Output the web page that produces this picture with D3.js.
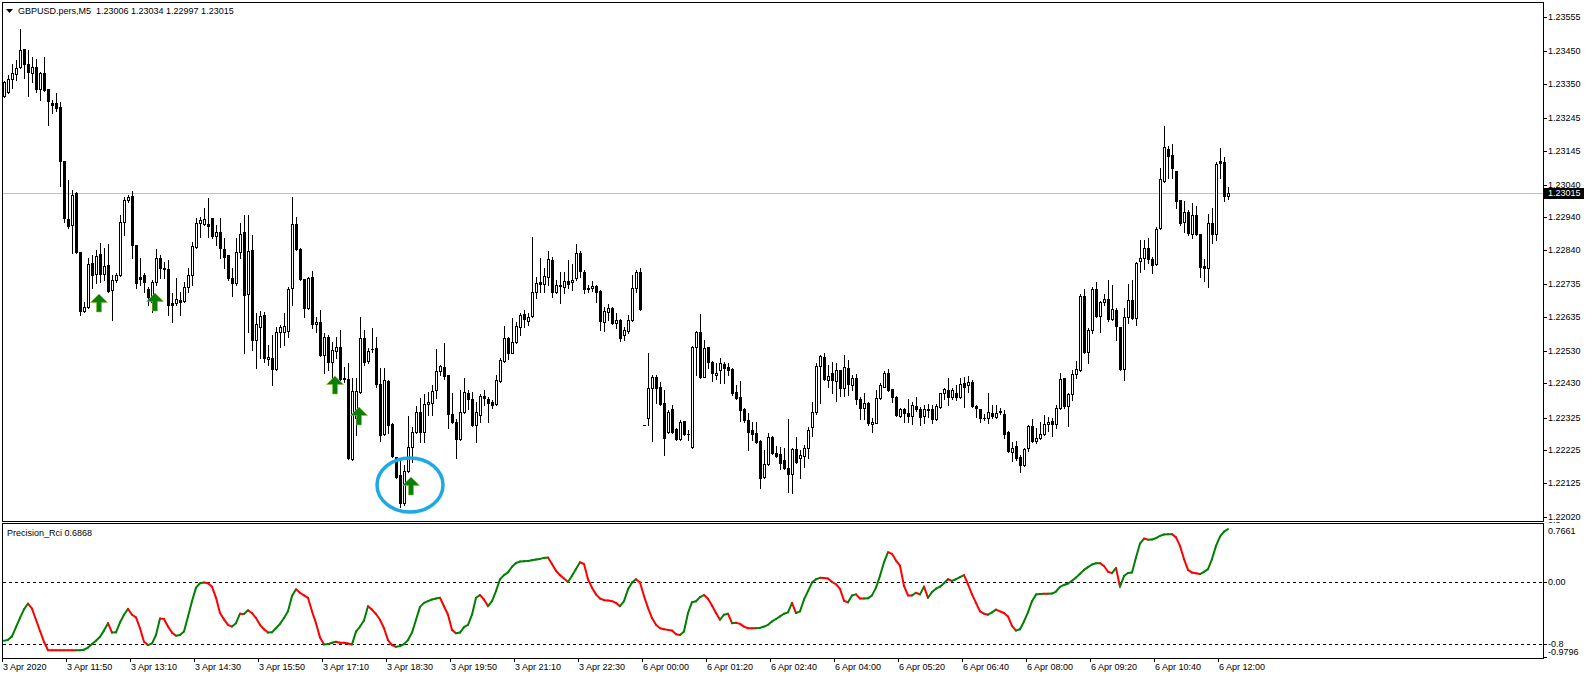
<!DOCTYPE html>
<html><head><meta charset="utf-8">
<script src="https://cdn.jsdelivr.net/npm/d3@7"></script>
<style>
body{margin:0;background:#fff;}
svg{display:block;}
text{font-family:"Liberation Sans",Arial,sans-serif;font-size:9px;fill:#000;}
</style>
</head><body>
<svg id="c" width="1589" height="679"></svg>
<script>
const symbolName = "GBPUSD.pers,M5";
const indicatorName = "Precision_Rci";

const opens = [1.23312,1.23325,1.23364,1.23380,1.23401,1.23457,1.23410,1.23383,1.23401,1.23334,
1.23383,1.23334,1.23291,1.23291,1.23278,1.23113,1.22935,1.22916,1.23014,1.22833,
1.22652,1.22664,1.22800,1.22766,1.22827,1.22766,1.22793,1.22717,1.22747,1.22763,
1.22926,1.22993,1.23005,1.22855,1.22757,1.22763,1.22720,1.22680,1.22741,1.22815,
1.22784,1.22781,1.22677,1.22677,1.22686,1.22683,1.22726,1.22763,1.22849,1.22922,
1.22919,1.22919,1.22938,1.22882,1.22895,1.22843,1.22824,1.22754,1.22738,1.22833,
1.22895,1.22704,1.22840,1.22563,1.22603,1.22640,1.22505,1.22508,1.22474,1.22588,
1.22588,1.22591,1.22723,1.22919,1.22843,1.22750,1.22661,1.22757,1.22612,1.22619,
1.22517,1.22572,1.22496,1.22529,1.22542,1.22446,1.22443,1.22198,1.22324,1.22404,
1.22569,1.22499,1.22536,1.22539,1.22428,1.22275,1.22437,1.22305,1.22204,1.22149,
1.22063,1.22161,1.22235,1.22281,1.22342,1.22281,1.22367,1.22370,1.22410,1.22468,
1.22480,1.22456,1.22336,1.22311,1.22259,1.22342,1.22400,1.22382,1.22302,1.22333,
1.22391,1.22382,1.22373,1.22367,1.22437,1.22499,1.22569,1.22523,1.22557,1.22603,
1.22643,1.22622,1.22637,1.22711,1.22741,1.22735,1.22757,1.22809,1.22711,1.22732,
1.22726,1.22744,1.22741,1.22754,1.22830,1.22772,1.22723,1.22723,1.22729,1.22714,
1.22619,1.22649,1.22661,1.22615,1.22625,1.22579,1.22591,1.22625,1.22723,1.22772,
1.22302,1.22324,1.22416,1.22450,1.22419,1.22370,1.22281,1.22351,1.22290,1.22259,
1.22315,1.22275,1.22235,1.22542,1.22588,1.22450,1.22542,1.22496,1.22456,1.22471,
1.22490,1.22480,1.22474,1.22404,1.22388,1.22351,1.22318,1.22287,1.22278,1.22253,
1.22143,1.22183,1.22265,1.22216,1.22213,1.22195,1.22170,1.22152,1.22229,1.22201,
1.22207,1.22232,1.22296,1.22342,1.22483,1.22511,1.22440,1.22462,1.22437,1.22471,
1.22416,1.22477,1.22425,1.22446,1.22382,1.22354,1.22370,1.22305,1.22308,1.22385,
1.22419,1.22462,1.22413,1.22388,1.22330,1.22351,1.22339,1.22330,1.22361,1.22351,
1.22330,1.22348,1.22351,1.22321,1.22357,1.22400,1.22410,1.22388,1.22400,1.22388,
1.22431,1.22425,1.22434,1.22361,1.22351,1.22324,1.22324,1.22339,1.22327,1.22345,
1.22336,1.22281,1.22219,1.22238,1.22204,1.22179,1.22232,1.22299,1.22253,1.22262,
1.22275,1.22305,1.22315,1.22305,1.22354,1.22446,1.22361,1.22397,1.22459,1.22471,
1.22698,1.22526,1.22594,1.22720,1.22637,1.22680,1.22689,1.22628,1.22655,1.22603,
1.22474,1.22634,1.22686,1.22631,1.22806,1.22815,1.22846,1.22812,1.22796,1.22907,
1.23051,1.23150,1.23131,1.23082,1.22993,1.22926,1.22956,1.22889,1.22947,1.22889,
1.22790,1.22784,1.22922,1.22889,1.23113,1.23110,1.23006];

const highs = [1.23358,1.23377,1.23410,1.23423,1.23518,1.23457,1.23453,1.23432,1.23426,1.23386,
1.23432,1.23334,1.23300,1.23321,1.23294,1.23113,1.23054,1.23024,1.23018,1.22833,
1.22680,1.22815,1.22824,1.22839,1.22861,1.22846,1.22858,1.22763,1.22769,1.22947,
1.23002,1.23008,1.23021,1.22855,1.22815,1.22769,1.22726,1.22747,1.22843,1.22824,
1.22803,1.22809,1.22708,1.22754,1.22711,1.22741,1.22784,1.22864,1.22938,1.22941,
1.22968,1.22999,1.22938,1.22916,1.22938,1.22876,1.22824,1.22784,1.22876,1.22922,
1.22947,1.22947,1.22886,1.22646,1.22652,1.22649,1.22548,1.22579,1.22603,1.22609,
1.22646,1.22726,1.23002,1.22941,1.22846,1.22750,1.22757,1.22775,1.22634,1.22655,
1.22585,1.22579,1.22557,1.22572,1.22594,1.22480,1.22493,1.22446,1.22446,1.22634,
1.22594,1.22539,1.22600,1.22572,1.22477,1.22477,1.22440,1.22308,1.22204,1.22201,
1.22179,1.22330,1.22296,1.22361,1.22385,1.22397,1.22404,1.22425,1.22536,1.22486,
1.22554,1.22456,1.22400,1.22321,1.22410,1.22446,1.22410,1.22404,1.22373,1.22397,
1.22410,1.22388,1.22379,1.22456,1.22508,1.22606,1.22572,1.22631,1.22619,1.22646,
1.22655,1.22646,1.22879,1.22757,1.22815,1.22784,1.22836,1.22818,1.22747,1.22772,
1.22772,1.22809,1.22796,1.22858,1.22836,1.22778,1.22732,1.22744,1.22732,1.22717,
1.22664,1.22674,1.22664,1.22646,1.22628,1.22603,1.22640,1.22763,1.22778,1.22784,
1.22302,1.22523,1.22456,1.22456,1.22434,1.22410,1.22348,1.22364,1.22293,1.22318,
1.22315,1.22287,1.22545,1.22591,1.22643,1.22563,1.22542,1.22499,1.22493,1.22508,
1.22496,1.22493,1.22477,1.22425,1.22437,1.22354,1.22339,1.22311,1.22311,1.22256,
1.22226,1.22278,1.22268,1.22238,1.22235,1.22232,1.22321,1.22232,1.22265,1.22226,
1.22241,1.22296,1.22373,1.22493,1.22517,1.22523,1.22486,1.22496,1.22493,1.22471,
1.22517,1.22502,1.22456,1.22459,1.22388,1.22400,1.22373,1.22324,1.22410,1.22431,
1.22468,1.22474,1.22413,1.22391,1.22354,1.22354,1.22382,1.22373,1.22388,1.22357,
1.22364,1.22367,1.22364,1.22367,1.22402,1.22416,1.22446,1.22416,1.22425,1.22446,
1.22450,1.22453,1.22440,1.22364,1.22351,1.22336,1.22400,1.22364,1.22364,1.22354,
1.22348,1.22284,1.22250,1.22253,1.22210,1.22232,1.22302,1.22321,1.22293,1.22311,
1.22333,1.22327,1.22324,1.22364,1.22462,1.22446,1.22400,1.22471,1.22499,1.22704,
1.22720,1.22600,1.22726,1.22741,1.22683,1.22704,1.22747,1.22732,1.22661,1.22603,
1.22661,1.22735,1.22747,1.22803,1.22870,1.22870,1.22876,1.22818,1.22910,1.23091,
1.23220,1.23159,1.23165,1.23082,1.22993,1.22990,1.22962,1.22984,1.22975,1.22889,
1.22812,1.22950,1.22968,1.23110,1.23153,1.23125,1.23034];

const lows = [1.23309,1.23321,1.23337,1.23361,1.23398,1.23367,1.23312,1.23355,1.23325,1.23300,
1.23328,1.23223,1.23260,1.23266,1.23036,1.22926,1.22907,1.22830,1.22830,1.22640,
1.22649,1.22661,1.22723,1.22738,1.22741,1.22747,1.22711,1.22625,1.22741,1.22760,
1.22886,1.22987,1.22815,1.22723,1.22732,1.22711,1.22671,1.22649,1.22732,1.22754,
1.22754,1.22640,1.22619,1.22671,1.22640,1.22680,1.22711,1.22732,1.22846,1.22879,
1.22916,1.22879,1.22876,1.22855,1.22815,1.22784,1.22747,1.22698,1.22732,1.22815,
1.22523,1.22588,1.22533,1.22477,1.22508,1.22496,1.22486,1.22425,1.22471,1.22542,
1.22548,1.22572,1.22671,1.22840,1.22747,1.22634,1.22658,1.22600,1.22588,1.22514,
1.22462,1.22471,1.22446,1.22508,1.22440,1.22434,1.22198,1.22195,1.22272,1.22400,
1.22486,1.22493,1.22526,1.22419,1.22253,1.22272,1.22278,1.22204,1.22140,1.22051,
1.22057,1.22158,1.22189,1.22278,1.22250,1.22250,1.22333,1.22333,1.22385,1.22456,
1.22443,1.22293,1.22308,1.22201,1.22256,1.22339,1.22351,1.22299,1.22250,1.22311,
1.22364,1.22311,1.22354,1.22364,1.22434,1.22496,1.22505,1.22523,1.22554,1.22579,
1.22603,1.22609,1.22634,1.22692,1.22711,1.22711,1.22732,1.22695,1.22708,1.22677,
1.22708,1.22723,1.22717,1.22747,1.22757,1.22708,1.22711,1.22714,1.22680,1.22594,
1.22591,1.22625,1.22612,1.22600,1.22560,1.22563,1.22585,1.22622,1.22711,1.22655,
1.22302,1.22302,1.22253,1.22370,1.22365,1.22210,1.22278,1.22278,1.22256,1.22256,
1.22272,1.22256,1.22232,1.22456,1.22446,1.22450,1.22477,1.22437,1.22443,1.22431,
1.22431,1.22456,1.22394,1.22382,1.22315,1.22311,1.22226,1.22256,1.22248,1.22109,
1.22140,1.22179,1.22214,1.22204,1.22167,1.22167,1.22097,1.22094,1.22187,1.22140,
1.22173,1.22201,1.22268,1.22336,1.22370,1.22440,1.22419,1.22400,1.22376,1.22391,
1.22391,1.22394,1.22410,1.22367,1.22321,1.22321,1.22302,1.22281,1.22308,1.22382,
1.22419,1.22407,1.22373,1.22330,1.22327,1.22311,1.22311,1.22305,1.22345,1.22302,
1.22308,1.22327,1.22308,1.22318,1.22355,1.22382,1.22364,1.22382,1.22379,1.22385,
1.22357,1.22404,1.22357,1.22327,1.22311,1.22318,1.22308,1.22324,1.22324,1.22336,
1.22262,1.22219,1.22192,1.22195,1.22158,1.22176,1.22222,1.22250,1.22247,1.22259,
1.22272,1.22284,1.22268,1.22293,1.22351,1.22354,1.22299,1.22379,1.22446,1.22468,
1.22524,1.22493,1.22585,1.22635,1.22588,1.22671,1.22622,1.22625,1.22563,1.22471,
1.22440,1.22615,1.22628,1.22609,1.22772,1.22781,1.22800,1.22769,1.22793,1.22904,
1.23048,1.23060,1.23060,1.22968,1.22916,1.22895,1.22886,1.22876,1.22886,1.22757,
1.22744,1.22726,1.22861,1.22870,1.23060,1.22990,1.22997];

const closes = [1.23355,1.23364,1.23383,1.23398,1.23453,1.23410,1.23386,1.23401,1.23334,1.23383,
1.23331,1.23297,1.23285,1.23275,1.23113,1.22938,1.22913,1.23008,1.22833,1.22652,
1.22664,1.22796,1.22763,1.22821,1.22766,1.22790,1.22714,1.22747,1.22763,1.22926,
1.22993,1.23002,1.22855,1.22738,1.22750,1.22741,1.22695,1.22741,1.22815,1.22784,
1.22781,1.22671,1.22671,1.22689,1.22680,1.22726,1.22763,1.22852,1.22922,1.22932,
1.22935,1.22913,1.22882,1.22895,1.22846,1.22818,1.22754,1.22738,1.22833,1.22889,
1.22701,1.22836,1.22563,1.22612,1.22637,1.22508,1.22511,1.22474,1.22588,1.22603,
1.22606,1.22720,1.22919,1.22843,1.22750,1.22661,1.22754,1.22612,1.22619,1.22517,
1.22572,1.22496,1.22533,1.22542,1.22443,1.22443,1.22201,1.22407,1.22407,1.22569,
1.22496,1.22529,1.22535,1.22428,1.22272,1.22440,1.22302,1.22207,1.22143,1.22063,
1.22161,1.22235,1.22281,1.22342,1.22281,1.22367,1.22373,1.22407,1.22468,1.22483,
1.22453,1.22336,1.22311,1.22259,1.22342,1.22404,1.22382,1.22302,1.22342,1.22391,
1.22385,1.22370,1.22364,1.22440,1.22502,1.22569,1.22523,1.22557,1.22606,1.22640,
1.22628,1.22634,1.22711,1.22738,1.22735,1.22760,1.22812,1.22711,1.22732,1.22729,
1.22744,1.22735,1.22747,1.22830,1.22775,1.22720,1.22720,1.22729,1.22711,1.22622,
1.22652,1.22661,1.22615,1.22625,1.22569,1.22594,1.22625,1.22723,1.22772,1.22658,
1.22302,1.22416,1.22450,1.22416,1.22367,1.22262,1.22342,1.22281,1.22259,1.22311,
1.22275,1.22274,1.22542,1.22588,1.22450,1.22539,1.22496,1.22462,1.22462,1.22493,
1.22477,1.22471,1.22400,1.22385,1.22348,1.22318,1.22281,1.22275,1.22250,1.22140,
1.22183,1.22265,1.22216,1.22207,1.22186,1.22170,1.22152,1.22229,1.22189,1.22210,
1.22232,1.22287,1.22342,1.22483,1.22514,1.22443,1.22453,1.22440,1.22471,1.22416,
1.22480,1.22428,1.22446,1.22382,1.22354,1.22370,1.22308,1.22311,1.22385,1.22425,
1.22462,1.22410,1.22388,1.22333,1.22351,1.22339,1.22330,1.22364,1.22351,1.22327,
1.22351,1.22351,1.22321,1.22361,1.22400,1.22413,1.22388,1.22410,1.22388,1.22428,
1.22419,1.22434,1.22361,1.22354,1.22324,1.22323,1.22342,1.22330,1.22339,1.22342,
1.22275,1.22222,1.22232,1.22201,1.22179,1.22229,1.22299,1.22253,1.22262,1.22275,
1.22305,1.22311,1.22305,1.22354,1.22443,1.22361,1.22397,1.22459,1.22474,1.22698,
1.22526,1.22594,1.22720,1.22637,1.22680,1.22689,1.22628,1.22658,1.22606,1.22474,
1.22634,1.22686,1.22631,1.22800,1.22815,1.22846,1.22812,1.22793,1.22904,1.23057,
1.23156,1.23128,1.23091,1.22990,1.22922,1.22956,1.22892,1.22947,1.22889,1.22787,
1.22784,1.22922,1.22889,1.23104,1.23107,1.23006,1.23015];

const rciValues = [-0.756,-0.745,-0.70,-0.58,-0.46,-0.35,-0.275,-0.341,-0.485,-0.630,
-0.770,-0.879,-0.879,-0.879,-0.879,-0.879,-0.879,-0.879,-0.879,-0.878,
-0.872,-0.844,-0.800,-0.756,-0.704,-0.625,-0.529,-0.651,-0.648,-0.520,
-0.420,-0.345,-0.420,-0.455,-0.595,-0.769,-0.813,-0.791,-0.682,-0.470,
-0.475,-0.573,-0.651,-0.691,-0.682,-0.638,-0.442,-0.245,-0.070,-0.013,
-0.004,-0.013,-0.057,-0.201,-0.398,-0.480,-0.551,-0.573,-0.529,-0.407,
-0.411,-0.363,-0.398,-0.463,-0.551,-0.608,-0.651,-0.648,-0.595,-0.538,
-0.463,-0.376,-0.179,-0.092,-0.136,-0.170,-0.201,-0.376,-0.529,-0.713,
-0.804,-0.800,-0.783,-0.769,-0.783,-0.783,-0.791,-0.804,-0.638,-0.573,
-0.494,-0.310,-0.354,-0.411,-0.485,-0.595,-0.748,-0.813,-0.835,-0.826,
-0.800,-0.748,-0.651,-0.485,-0.319,-0.267,-0.245,-0.223,-0.210,-0.201,
-0.310,-0.420,-0.616,-0.660,-0.651,-0.581,-0.551,-0.420,-0.201,-0.166,
-0.223,-0.310,-0.245,-0.114,0.039,0.092,0.127,0.201,0.249,0.267,
0.272,0.275,0.284,0.293,0.302,0.315,0.319,0.236,0.149,0.092,
0.048,0.004,0.083,0.170,0.258,0.236,0.039,-0.070,-0.157,-0.210,
-0.232,-0.236,-0.245,-0.267,-0.310,-0.245,-0.092,-0.004,0.039,-0.004,
-0.179,-0.332,-0.463,-0.551,-0.595,-0.608,-0.616,-0.625,-0.673,-0.682,
-0.638,-0.398,-0.258,-0.245,-0.192,-0.166,-0.214,-0.302,-0.398,-0.485,
-0.420,-0.407,-0.529,-0.525,-0.538,-0.573,-0.595,-0.595,-0.595,-0.590,
-0.573,-0.551,-0.507,-0.475,-0.442,-0.407,-0.389,-0.267,-0.398,-0.376,
-0.223,-0.114,-0.004,0.039,0.057,0.055,0.048,0.004,-0.026,-0.085,
-0.240,-0.260,-0.170,-0.157,-0.210,-0.210,-0.208,-0.170,-0.070,0.083,
0.258,0.389,0.367,0.280,0.214,-0.048,-0.170,-0.170,-0.136,-0.157,
-0.057,-0.201,-0.127,-0.083,-0.057,-0.013,0.039,0.017,0.039,0.066,
0.092,-0.026,-0.157,-0.267,-0.376,-0.407,-0.420,-0.389,-0.354,-0.376,
-0.398,-0.442,-0.564,-0.625,-0.608,-0.507,-0.389,-0.245,-0.157,
-0.153,-0.149,-0.150,-0.146,-0.120,-0.060,-0.035,-0.017,0.020,0.060,0.110,
0.160,0.195,0.230,0.245,0.247,0.210,0.135,0.118,0.185,-0.058,
0.080,0.120,0.127,0.320,0.500,0.565,0.551,0.553,0.570,0.600,
0.618,0.621,0.622,0.580,0.470,0.300,0.160,0.125,0.115,0.106,
0.135,0.170,0.300,0.470,0.590,0.655,0.6868];

const priceTicks = [1.23555,1.23450,1.23350,1.23245,1.23145,1.23040,1.22940,1.22840,1.22735,1.22635,1.22530,1.22430,1.22325,1.22225,1.22125,1.22020];
const rciLevels = [0.8, 0, -0.8];
const rciLevelLabels = ["0.8","0.00","-0.8"];
const rciMax = 0.7661, rciMin = -0.9796;
const timeLabels = ["3 Apr 2020","3 Apr 11:50","3 Apr 13:10","3 Apr 14:30","3 Apr 15:50","3 Apr 17:10","3 Apr 18:30","3 Apr 19:50","3 Apr 21:10","3 Apr 22:30","6 Apr 00:00","6 Apr 01:20","6 Apr 02:40","6 Apr 04:00","6 Apr 05:20","6 Apr 06:40","6 Apr 08:00","6 Apr 09:20","6 Apr 10:40","6 Apr 12:00"];
const timeLabelBars = [0,16,32,48,64,80,96,112,128,144,160,176,192,208,224,240,256,272,288,304];
const arrowBars = [24,38,83,89,102];
const arrowPrices = [1.22704,1.22707,1.22453,1.22358,1.22143];
const circleBar = 101.5, circlePrice = 1.22118;

const svg = d3.select("#c");
const n = opens.length;
const last = n - 1;
const bid = closes[last];

const x = d3.scaleLinear().domain([0, 306]).range([4, 1228]);
const y = d3.scaleLinear().domain([1.220075, 1.23601]).range([521, 2]);
const yi = d3.scaleLinear().domain([rciMin, rciMax]).range([658, 523]);
const R = v => Math.round(v);

const defs = svg.append("defs");
defs.append("clipPath").attr("id","mainClip").append("rect").attr("x",3).attr("y",3).attr("width",1540).attr("height",518);
defs.append("clipPath").attr("id","indClip").append("rect").attr("x",3).attr("y",524).attr("width",1540).attr("height",134);
defs.append("clipPath").attr("id","indAxisClip").append("rect").attr("x",1540).attr("y",522).attr("width",60).attr("height",150);

// Current price line
svg.append("line").attr("x1",3).attr("x2",1543)
  .attr("y1",R(y(bid))+0.5).attr("y2",R(y(bid))+0.5)
  .attr("stroke","#c0c0c0").attr("stroke-width",1);

// Candles
const g = svg.append("g").attr("clip-path","url(#mainClip)");
for (let i = 0; i < n; i++) {
  const cx = R(x(i));
  const yH = R(y(highs[i])), yL = R(y(lows[i])), yO = R(y(opens[i])), yC = R(y(closes[i]));
  g.append("line").attr("x1",cx+0.5).attr("x2",cx+0.5).attr("y1",yH).attr("y2",yL+1)
    .attr("stroke","#000").attr("stroke-width",1);
  if (closes[i] > opens[i]) {
    const top = yC, bot = yO;
    g.append("rect").attr("x",cx-0.5).attr("y",top+0.5).attr("width",2).attr("height",Math.max(bot-top,1))
      .attr("fill","#fff").attr("stroke","#000").attr("stroke-width",1);
  } else if (closes[i] < opens[i]) {
    g.append("rect").attr("x",cx-1).attr("y",yO).attr("width",3).attr("height",Math.max(yC-yO+1,1))
      .attr("fill","#000");
  } else {
    g.append("line").attr("x1",cx-1).attr("x2",cx+2).attr("y1",yO+0.5).attr("y2",yO+0.5)
      .attr("stroke","#000").attr("stroke-width",1);
  }
}

// Signal arrows
const arrowPath = "M0,0 L8.5,8.5 L2.5,8.5 L2.5,18 L-2.5,18 L-2.5,8.5 L-8.5,8.5 Z";
arrowBars.forEach((b,k) => {
  g.append("path").attr("d",arrowPath)
    .attr("transform",`translate(${x(b)-1},${R(y(arrowPrices[k]))})`)
    .attr("fill","#0a7f0a").attr("stroke","#8fbf3a").attr("stroke-width",0.6);
});

// Highlight circle
svg.append("ellipse").attr("cx",x(circleBar)).attr("cy",y(circlePrice))
  .attr("rx",33).attr("ry",27).attr("fill","none")
  .attr("stroke","#1fa9e4").attr("stroke-width",3.5);

// Frames
svg.append("rect").attr("x",2.5).attr("y",2.5).attr("width",1541).attr("height",519)
  .attr("fill","none").attr("stroke","#000").attr("stroke-width",1);
svg.append("rect").attr("x",2.5).attr("y",523.5).attr("width",1541).attr("height",135)
  .attr("fill","none").attr("stroke","#000").attr("stroke-width",1);

// Title
svg.append("path").attr("d","M6,9 L13,9 L9.5,13 Z").attr("fill","#000");
svg.append("text").attr("x",18).attr("y",14).style("white-space","pre")
  .text(`${symbolName}  ${opens[last].toFixed(5)} ${highs[last].toFixed(5)} ${lows[last].toFixed(5)} ${closes[last].toFixed(5)}`);

// Price axis
priceTicks.forEach(p => {
  const yy = R(y(p));
  svg.append("line").attr("x1",1543).attr("x2",1547).attr("y1",yy+0.5).attr("y2",yy+0.5).attr("stroke","#000");
  svg.append("text").attr("x",1548).attr("y",yy).attr("dy","0.35em").text(p.toFixed(5));
});
// Bid box
const yb = R(y(bid));
svg.append("rect").attr("x",1544).attr("y",yb-5).attr("width",40).attr("height",11).attr("fill","#000");
svg.append("text").attr("x",1548).attr("y",yb).attr("dy","0.35em").style("fill","#fff").text(bid.toFixed(5));

// Indicator
const ind = svg.append("g").attr("clip-path","url(#indClip)");
rciLevels.forEach(v => {
  const yy = R(yi(v));
  ind.append("line").attr("x1",3).attr("x2",1543).attr("y1",yy+0.5).attr("y2",yy+0.5)
    .attr("stroke","#000").attr("stroke-width",1).attr("stroke-dasharray","3,3");
});
let col = "#008000";
for (let i = 1; i < rciValues.length; i++) {
  if (rciValues[i] > rciValues[i-1]) col = "#008000";
  else if (rciValues[i] < rciValues[i-1]) col = "#ff0000";
  ind.append("line").attr("x1",x(i-1)).attr("y1",yi(rciValues[i-1]))
    .attr("x2",x(i)).attr("y2",yi(rciValues[i]))
    .attr("stroke",col).attr("stroke-width",2).attr("stroke-linecap","round");
}
svg.append("text").attr("x",7).attr("y",536)
  .text(`${indicatorName} ${rciValues[rciValues.length-1].toFixed(4)}`);

// Indicator axis
const iax = svg.append("g").attr("clip-path","url(#indAxisClip)");
rciLevels.forEach((v,k) => {
  const yy = R(yi(v));
  iax.append("line").attr("x1",1543).attr("x2",1547).attr("y1",yy+0.5).attr("y2",yy+0.5).attr("stroke","#000");
  iax.append("text").attr("x",1548).attr("y",yy).attr("dy","0.35em").text(rciLevelLabels[k]);
});
iax.append("text").attr("x",1548).attr("y",R(yi(rciMax))+8).attr("dy","0.35em").text(rciMax.toFixed(4));
iax.append("text").attr("x",1548).attr("y",R(yi(rciMin))-6).attr("dy","0.35em").text(rciMin.toFixed(4));
iax.append("line").attr("x1",1543).attr("x2",1547).attr("y1",R(yi(rciMin))-0.5).attr("y2",R(yi(rciMin))-0.5).attr("stroke","#000");

// Time axis
timeLabels.forEach((t,k) => {
  const xx = R(x(timeLabelBars[k])) - 2;
  svg.append("line").attr("x1",xx+0.5).attr("x2",xx+0.5).attr("y1",659).attr("y2",662).attr("stroke","#000");
  svg.append("text").attr("x",xx+1).attr("y",670).text(t);
});
</script>
</body></html>
